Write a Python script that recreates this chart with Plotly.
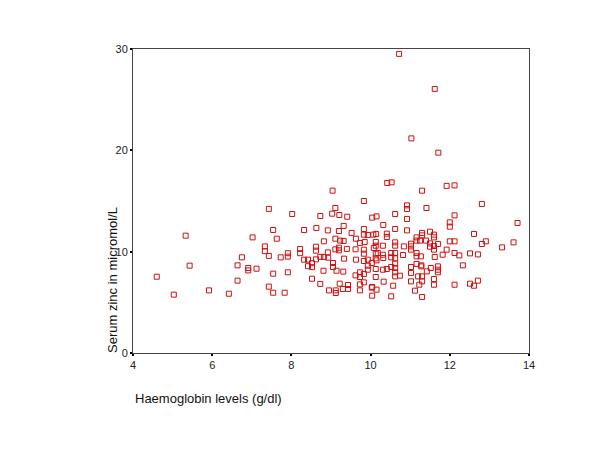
import plotly.graph_objects as go

haemoglobin = [
    4.60, 5.03, 5.33, 5.43, 5.92, 6.42, 6.64, 6.64, 6.75, 6.91, 6.91, 7.12, 7.02, 7.33, 7.33, 7.43, 7.43, 7.43,
    8.02, 8.73, 7.54, 8.32, 8.63, 7.63, 7.73, 7.91, 7.91, 8.22, 8.22, 8.32, 8.42, 8.42, 8.52, 8.52, 8.62, 8.62,
    8.62, 8.73, 7.54, 7.91, 8.52, 7.54, 7.83, 8.73, 8.82, 8.81,
    9.04, 9.83, 9.03, 9.11, 9.21, 9.41, 10.04, 8.92, 9.32, 9.20, 9.52, 9.83, 9.83, 9.93, 10.07, 9.11, 9.23, 9.32,
    9.63, 9.73, 9.85, 8.92, 9.11, 9.20, 9.20, 9.40, 9.62, 9.83, 9.83, 10.08, 8.82, 8.93, 9.05, 9.05, 9.33, 9.63,
    9.83, 9.93, 9.93, 9.93, 9.14, 9.31, 9.62, 9.73, 9.73, 9.83, 9.22, 9.43, 9.73, 9.83, 10.04, 8.95, 9.12, 9.12,
    9.30, 9.43, 9.73, 10.04,
    10.42, 10.53, 10.92, 10.92, 10.92, 10.15, 10.62, 10.32, 10.62, 10.92, 10.14, 10.41, 10.41, 10.13, 10.13, 10.31,
    10.62, 10.62, 10.84, 11.02, 11.02, 11.02, 10.18, 10.31, 10.32, 10.13, 10.13, 10.52, 10.52, 10.62, 10.62, 10.82,
    10.03, 10.15, 10.13, 10.13, 10.31, 10.41, 10.52, 10.62, 10.62, 10.62, 10.62, 11.02, 11.02, 10.74, 11.02, 10.33,
    10.03, 10.15, 10.57, 10.52, 11.12,
    11.30, 11.92, 12.12, 11.41, 12.12, 12.00, 12.00, 11.30, 11.30, 11.50, 11.60, 11.60, 11.16, 11.16, 11.25, 11.40,
    11.50, 11.50, 11.60, 11.60, 11.70, 12.00, 12.12, 12.12, 12.24, 11.92, 11.82, 11.16, 11.16, 11.27, 11.62, 12.33,
    11.16, 11.28, 11.28, 11.42, 11.52, 11.70, 11.70, 11.70, 11.20, 11.30, 11.30, 11.23, 11.60, 11.60, 12.12, 11.30,
    12.81, 12.61, 13.71, 12.81, 12.91, 13.32, 13.61, 12.51, 12.71, 12.51, 12.61, 12.71,
    10.72, 11.62, 11.03, 11.71,
]

serum_zinc = [
    7.53, 5.76, 11.58, 8.62, 6.18, 5.85, 7.14, 8.65, 9.44, 8.39, 8.15, 8.32, 11.41, 10.52, 10.05, 9.58, 14.22, 6.55,
    13.72, 13.52, 12.14, 12.14, 12.34, 11.28, 9.44, 9.85, 9.51, 10.27, 9.85, 9.21, 9.21, 8.57, 8.86, 8.47, 10.49, 10.10,
    9.24, 9.49, 7.83, 7.96, 7.33, 5.95, 5.95, 6.82, 11.02, 8.12,
    16.02, 15.00, 13.75, 14.31, 13.62, 13.45, 13.36, 12.10, 12.54, 12.04, 11.85, 12.24, 11.68, 11.65, 11.68, 11.28, 11.09, 11.06,
    11.28, 10.86, 10.96, 9.93, 10.23, 10.39, 10.13, 10.27, 10.23, 10.20, 9.80, 10.37, 9.48, 9.41, 8.88, 8.49, 9.31, 9.21,
    9.08, 9.21, 8.62, 8.22, 8.12, 8.03, 7.66, 7.96, 7.50, 7.80, 6.84, 6.71, 6.77, 6.97, 6.52, 6.18, 6.18, 5.92,
    6.32, 6.32, 6.18, 5.66,
    16.78, 16.84, 14.57, 14.21, 13.23, 13.48, 13.72, 12.64, 12.24, 12.10, 11.75, 11.78, 11.45, 10.96, 10.59, 10.59,
    10.92, 10.59, 10.52, 10.79, 10.52, 10.20, 9.87, 9.70, 9.38, 9.80, 9.34, 9.87, 9.44, 9.87, 9.34, 9.67,
    8.88, 9.14, 8.29, 7.50, 8.22, 8.29, 8.49, 8.82, 8.39, 7.96, 7.56, 8.49, 7.90, 7.63, 7.07, 7.04,
    6.45, 6.25, 6.64, 5.59, 6.15,
    16.02, 16.49, 16.54, 14.31, 13.58, 12.89, 12.47, 11.85, 11.61, 11.97, 11.68, 11.41, 11.41, 11.09, 11.09, 11.09,
    10.82, 10.49, 10.56, 10.20, 10.76, 11.02, 11.02, 9.87, 9.63, 10.20, 9.70, 9.87, 9.54, 9.54, 9.48, 8.65,
    8.79, 8.65, 8.55, 8.06, 8.39, 8.55, 8.22, 7.96, 7.56, 7.56, 7.07, 6.74, 7.30, 6.74, 6.74, 5.53,
    14.71, 11.75, 12.83, 10.76, 11.02, 10.42, 10.92, 9.83, 9.73, 6.84, 6.64, 7.14,
    29.52, 26.06, 21.18, 19.77,
]

x_ticks = [4, 6, 8, 10, 12, 14]
y_ticks = [0, 10, 20, 30]
x_title = "Haemoglobin levels (g/dl)"
y_title = "Serum zinc in micromol/L"

FONT = "Arial, 'Liberation Sans', sans-serif"

fig = go.Figure(
    go.Scatter(
        x=haemoglobin,
        y=serum_zinc,
        mode="markers",
        marker=dict(symbol="square-open", size=5, color="#cc1111", line=dict(width=1, color="#cc1111")),
        hoverinfo="x+y",
        showlegend=False,
    )
)

axis_common = dict(
    showgrid=False,
    zeroline=False,
    showline=True,
    linecolor="#444444",
    linewidth=1,
    mirror=True,
    ticks="outside",
    ticklen=2,
    tickwidth=2,
    tickcolor="#000000",
    tickfont=dict(family=FONT, size=11, color="#222222"),
)

fig.update_xaxes(range=[4, 14], tickvals=x_ticks, ticktext=[str(v) for v in x_ticks], **axis_common)
fig.update_yaxes(range=[0, 30], tickvals=y_ticks, ticktext=[str(v) for v in y_ticks], **axis_common)

fig.add_annotation(
    text=x_title, xref="paper", yref="paper", x=0.0, y=-0.12,
    xanchor="left", yanchor="top", showarrow=False,
    font=dict(family=FONT, size=13, color="#111111"),
)
fig.add_annotation(
    text=y_title, xref="paper", yref="paper", x=-0.052, y=-0.005,
    xanchor="center", yanchor="bottom", textangle=-90, showarrow=False,
    font=dict(family=FONT, size=13, color="#111111"),
)

fig.update_layout(
    width=600,
    height=450,
    margin=dict(l=125, r=79, t=41, b=105),
    paper_bgcolor="white",
    plot_bgcolor="white",
)

fig.write_html("out.html")
